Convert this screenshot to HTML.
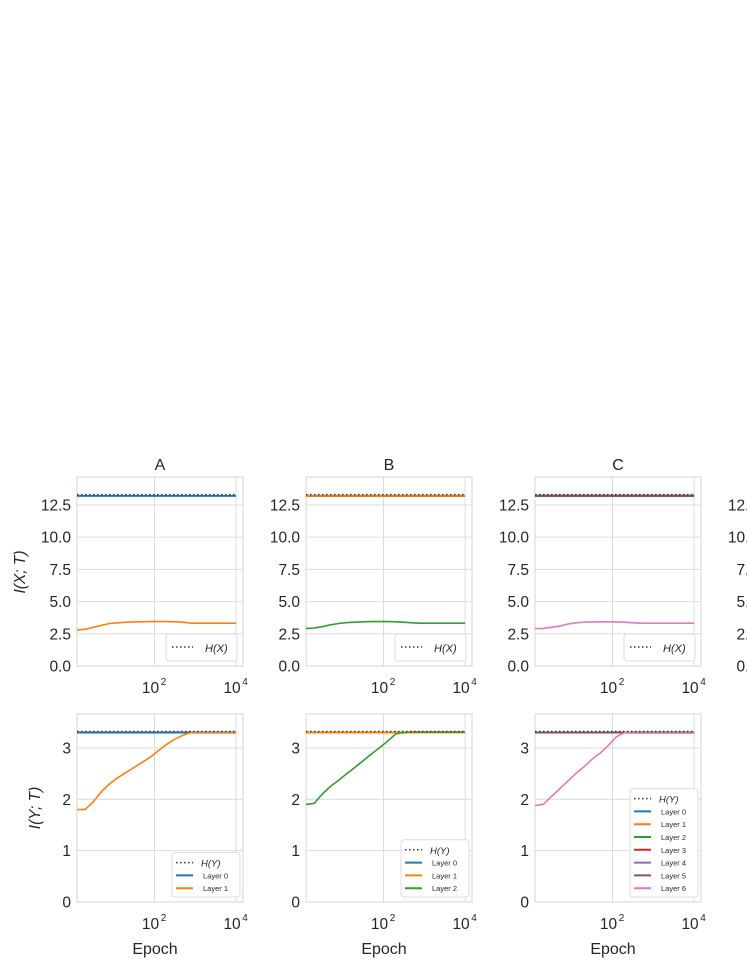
<!DOCTYPE html>
<html><head><meta charset="utf-8">
<style>
html,body{margin:0;padding:0;background:#fff;width:747px;height:967px;overflow:hidden}
svg{display:block;font-family:"Liberation Sans",Arial,sans-serif}
</style></head>
<body>
<svg id="fig" width="747" height="967" viewBox="0 0 747 967"></svg>
<script>
// ---- data ----
const panelTitles = ["A","B","C","D"];
const layerColors = ["#1f77b4","#ff7f0e","#2ca02c","#d62728","#9467bd","#8c564b","#e377c2"];
const layerCounts = [2,3,7,7];
const HX = 13.3;
const HY = 3.32;
const xTickLabels = ["2","4"];
const xTickExps = [2,4];
const topYTicks = [0,2.5,5,7.5,10,12.5];
const topYTickLabels = ["0.0","2.5","5.0","7.5","10.0","12.5"];
const botYTicks = [0,1,2,3];
const botYTickLabels = ["0","1","2","3"];
// epoch (log10) sample points
const epochLog = [0.1,0.3,0.5,0.7,0.9,1.1,1.3,1.5,1.7,1.9,2.1,2.3,2.5,2.7,2.9,3.1,3.3,3.5,3.7,4.0];
// I(X;T) for first (flat) layers
const ixFlat = 13.2;
// I(X;T) last layer per panel
const ixLastA = [2.8,2.85,3.0,3.15,3.3,3.35,3.4,3.42,3.43,3.45,3.45,3.45,3.43,3.4,3.32,3.32,3.32,3.32,3.32,3.32];
const ixLastB = [2.9,2.95,3.05,3.2,3.3,3.37,3.4,3.43,3.45,3.45,3.45,3.43,3.4,3.35,3.32,3.32,3.32,3.32,3.32,3.32];
const ixLastC = [2.9,2.92,3.0,3.1,3.25,3.35,3.4,3.42,3.43,3.43,3.42,3.4,3.35,3.32,3.32,3.32,3.32,3.32,3.32,3.32];
// I(Y;T)
const iyFlat = 3.3;
const iyLastA = [1.8,1.8,1.95,2.15,2.3,2.42,2.52,2.62,2.72,2.82,2.95,3.07,3.17,3.25,3.3,3.3,3.3,3.3,3.3,3.3];
const iyLastB = [1.9,1.92,2.1,2.25,2.37,2.5,2.62,2.75,2.88,3.0,3.13,3.27,3.3,3.31,3.31,3.31,3.31,3.31,3.31,3.31];
const iyLastC = [1.88,1.9,2.05,2.2,2.35,2.5,2.63,2.78,2.9,3.05,3.22,3.3,3.31,3.31,3.31,3.31,3.31,3.31,3.31,3.31];
const ixLast = [ixLastA,ixLastB,ixLastC,ixLastC];
const iyLast = [iyLastA,iyLastB,iyLastC,iyLastC];

// ---- layout ----
const NS="http://www.w3.org/2000/svg";
const svg=document.getElementById('fig');
function mk(tag,attrs,parent){const e=document.createElementNS(NS,tag);for(const k in attrs)e.setAttribute(k,attrs[k]);(parent||svg).appendChild(e);return e;}
const colLeft=[77,306,535,764], W=166;
const rows=[{top:477,bot:666,ymax:14.67,ticks:topYTicks,labels:topYTickLabels},{top:714,bot:902,ymax:3.66,ticks:botYTicks,labels:botYTickLabels}];
const XMIN=0.1, XMAX=4.17;

for(let c=0;c<4;c++){
  const L=colLeft[c];
  const sx=v=>L+(v-XMIN)/(XMAX-XMIN)*W;
  for(let r=0;r<2;r++){
    const R=rows[r];
    const sy=v=>R.bot-(v/R.ymax)*(R.bot-R.top);
    const g=mk('g',{});
    
    
    // grid
    R.ticks.forEach((t,i)=>{
      const y=sy(t);
      const gl=mk('line',{x1:L,x2:L+W,y1:y,y2:y,stroke:'#dcdcdc','stroke-width':1},g);
      
      const tl=mk('text',{x:L-6,y:y+5.5,'text-anchor':'end','font-size':15.5,fill:'#262626'},g);
      tl.textContent=R.labels[i];
      
    });
    xTickExps.forEach((e,i)=>{
      const x=sx(e);
      const gl=mk('line',{x1:x,x2:x,y1:R.top,y2:R.bot,stroke:'#dcdcdc','stroke-width':1},g);
      
      const tl=mk('text',{x:x-4,y:R.bot+27,'text-anchor':'middle','font-size':15.5,fill:'#262626'},g);
      tl.textContent='10';
      
      const sp=mk('text',{x:x+9,y:R.bot+19,'text-anchor':'middle','font-size':10,fill:'#262626'},g);
      sp.textContent=xTickLabels[i];
      
    });
    const fr=mk('rect',{x:L,y:R.top,width:W,height:R.bot-R.top,fill:'none',stroke:'#dcdcdc','stroke-width':1.2},g);
    
    // series
    const n=layerCounts[c];
    const last=r?iyLast[c]:ixLast[c];
    const flat=r?iyFlat:ixFlat;
    const ent=r?HY:HX;
    for(let k=0;k<n;k++){
      const vals=(k===n-1)?last:epochLog.map(()=>flat);
      const pts=epochLog.map((e,i)=>sx(e).toFixed(1)+','+sy(vals[i]).toFixed(1)).join(' ');
      const pl=mk('polyline',{points:pts,fill:'none',stroke:layerColors[k],'stroke-width':(k===n-1)?1.6:2},g);
      
    }
    const hl=mk('line',{x1:L,x2:sx(4),y1:sy(ent),y2:sy(ent),stroke:'#333','stroke-width':1.5,'stroke-dasharray':'1.5,2.5'},g);
    
    // legend
    if(r===0){
      const lg=mk('g',{},g);
      
      mk('rect',{x:L+89,y:634,width:71,height:27,rx:3,fill:'#fff',stroke:'#dcdcdc'},lg);
      mk('line',{x1:L+95,x2:L+116,y1:647,y2:647,stroke:'#333','stroke-width':1.5,'stroke-dasharray':'1.5,2.5'},lg);
      const t=mk('text',{x:L+128,y:652,'font-size':11,'font-style':'italic',fill:'#262626'},lg);
      t.textContent='H(X)';
    } else {
      const lh=12.8*(n+1)+6;
      const ly=897-lh;
      const lg=mk('g',{},g);
      
      mk('rect',{x:L+95,y:ly,width:68,height:lh,rx:3,fill:'#fff',stroke:'#dcdcdc'},lg);
      mk('line',{x1:L+99,x2:L+116,y1:ly+10,y2:ly+10,stroke:'#333','stroke-width':1.5,'stroke-dasharray':'1.5,2.5'},lg);
      const t=mk('text',{x:L+124,y:ly+14,'font-size':9.5,'font-style':'italic',fill:'#262626'},lg);
      t.textContent='H(Y)';
      for(let k=0;k<n;k++){
        const yy=ly+10+12.8*(k+1);
        mk('line',{x1:L+99,x2:L+116,y1:yy,y2:yy,stroke:layerColors[k],'stroke-width':2},lg);
        const tt=mk('text',{x:L+126,y:yy+3,'font-size':7.5,fill:'#262626'},lg);
        tt.textContent='Layer '+k;
      }
    }
  }
  const tt=mk('text',{x:L+W/2,y:470,'text-anchor':'middle','font-size':16,fill:'#262626'});
  tt.textContent=panelTitles[c];
  
  const ex=mk('text',{x:L+W/2-5,y:954,'text-anchor':'middle','font-size':16,fill:'#262626'});
  ex.textContent='Epoch';
  
}
const yl1=mk('text',{x:0,y:0,transform:'translate(25,572) rotate(-90)','text-anchor':'middle','font-size':15.5,'font-style':'italic',fill:'#262626'});
yl1.textContent='I(X; T)';

const yl2=mk('text',{x:0,y:0,transform:'translate(40,808) rotate(-90)','text-anchor':'middle','font-size':15.5,'font-style':'italic',fill:'#262626'});
yl2.textContent='I(Y; T)';

</script>
</body></html>
